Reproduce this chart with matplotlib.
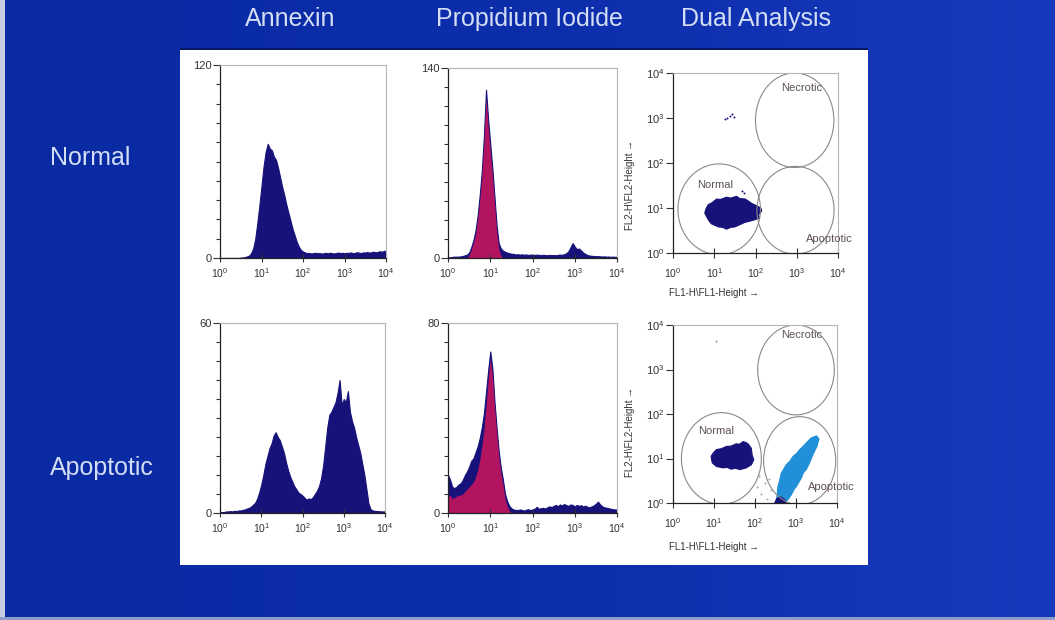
import numpy as np
import matplotlib
matplotlib.use('Agg')
import matplotlib.pyplot as plt
from matplotlib.patches import Ellipse, Polygon, Rectangle
from matplotlib.ticker import MultipleLocator
from matplotlib.colors import LinearSegmentedColormap

plt.rcParams['font.family'] = ['Liberation Sans', 'DejaVu Sans']
plt.rcParams['mathtext.fontset'] = 'custom'
plt.rcParams['mathtext.rm'] = 'Liberation Sans'
plt.rcParams['mathtext.it'] = 'Liberation Sans:italic'
plt.rcParams['mathtext.bf'] = 'Liberation Sans:bold'

W, H = 1055, 620

# ---- data -------------------------------------------------------------
col_titles = ['Annexin', 'Propidium Iodide', 'Dual Analysis']
row_titles = ['Normal', 'Apoptotic']
decade_labels = ['$10^{0}$', '$10^{1}$', '$10^{2}$', '$10^{3}$', '$10^{4}$']

# histogram channels: log10 intensity, 0.05 decade bins from 10^0 to 10^4
bins = np.arange(81) * 0.05

ann_normal = [0, 0, 0, 0, 0, 0, 0, 0, 0, 0, 0.2, 0.3,
              0.5, 1, 1.5, 3, 6, 12, 22, 33, 45, 57, 66, 71, 68, 67, 63, 61, 56, 50,
              44, 39, 33, 28, 23, 18, 14, 10, 7, 5, 4,
              3.5, 3, 3.2, 2.8, 3, 3.3, 2.9, 3.1, 2.7, 3,
              3.2, 2.9, 3.3, 3, 2.8, 3.1, 3.4, 3, 3.2, 2.9,
              3.3, 3.1, 3.5, 3, 3.2, 3.6, 3.3, 3.1, 3.5, 3.4,
              3.7, 3.3, 3.6, 3.9, 3.5, 3.8, 4.2, 3.9, 4.4, 4.6]

pi_normal = [0.5, 0.5, 0.8, 1, 1, 1, 1.2, 1.5, 2, 2.5,
             4, 8, 13, 20, 31, 46, 64, 90, 124, 102, 84, 66, 45, 24, 11, 7, 5.5, 4.5, 4, 3.5,
             3.2, 3, 2.6, 2.8, 2.5, 2.7, 2.4, 2.6, 2.3, 2.5,
             2.4, 2.2, 2.5, 2.3, 2.1, 2.4, 2.2, 2.0, 2.3, 2.1,
             2.2, 2.0, 2.3, 2.5, 2.4, 2.8,
             3.5, 5, 8, 11, 8.5, 6.5, 7, 5.5, 4, 3, 2.2,
             1.8, 1.6, 1.5, 1.3, 1.4, 1.2, 1.1, 1.2, 1.0, 1.1, 0.9, 1.0, 0.9, 0.8]

pi_normal_gate = [0] * 10 + [2, 6, 11, 17, 28, 42, 60, 85, 118, 97, 79, 61, 41, 20, 7, 2] + [0] * 55

ann_apo = [0.2, 0.3, 0.3, 0.5, 0.5, 0.6, 0.5, 0.7, 0.6, 0.8,
           0.8, 1.0, 1.1, 1.4, 1.6, 2.0, 2.6, 3.2, 4.5, 6.5,
           9, 12, 15.5, 18, 20.5, 22, 24.5, 25.5, 24, 23,
           21, 19, 16, 13.5, 11.5, 10, 8.5, 7.5, 6.5, 6,
           5.5, 4.8, 4.2, 4.6, 4.4, 5, 6, 7, 8.5, 11,
           15, 21, 27, 31, 32, 33.5, 35, 38, 42, 34,
           36, 35, 38.5, 32, 29, 27, 24, 21.5, 19, 15.5,
           12, 7.5, 3, 1.2, 0.8, 0.7, 0.6, 0.6, 0.5, 0.5,
           0.5]

pi_apo = [16, 14, 11, 10.5, 11, 12, 12.5, 14, 16, 17.5,
          19.5, 22, 23, 25.5, 28, 31.5, 36, 42, 51, 60,
          68, 61, 47, 36, 26, 19, 14, 8, 5, 3,
          2, 1.5, 1.3, 1.2, 1.5, 1.3, 1.0, 1.4, 1.6, 1.2,
          1.5, 1.8, 2.6, 1.8, 2.0, 2.2, 1.9, 2.4, 2.8, 2.5,
          3.0, 3.4, 2.9, 3.6, 3.2, 3.8, 3.3, 3.0, 3.6, 3.4,
          2.8, 3.4, 3.0, 3.3, 2.7, 3.1, 2.6, 2.4, 2.8, 3.2,
          3.9, 4.8, 3.6, 2.8, 2.4, 2.2, 2.0, 1.8, 1.6, 1.5,
          1.4]

pi_apo_gate = [7, 7.5, 6, 6.5, 7, 7.5, 7.5, 8, 9, 10,
               11, 12, 13, 15, 18, 22, 28, 35, 45, 56,
               65, 58, 45, 34, 24, 17, 12, 6, 3, 1] + [0] * 51

hist_ymax = [[120, 140], [60, 80]]

# dual plots: gates (cx, cy, width, height) in decades
gates_normal = [(1.12, 0.97, 2.0, 2.02), (2.97, 0.95, 1.87, 1.95), (2.95, 2.95, 1.9, 2.1)]
gates_apo = [(1.18, 1.0, 1.95, 2.06), (3.09, 0.95, 1.76, 1.98), (3.0, 2.99, 1.87, 2.02)]
gate_names = ['Normal', 'Apoptotic', 'Necrotic']
gate_text_normal = [(1.02, 1.52), (3.78, 0.31), (3.13, 3.67)]
gate_text_apo = [(1.06, 1.61), (3.86, 0.37), (3.13, 3.78)]

blob_normal_top = [(0.77, 0.89), (0.80, 0.98), (0.85, 1.07), (0.95, 1.12), (1.06, 1.20),
                   (1.15, 1.19), (1.30, 1.24), (1.40, 1.22), (1.54, 1.26), (1.62, 1.21),
                   (1.75, 1.20), (1.85, 1.14), (1.91, 1.10), (2.03, 1.05), (2.13, 1.00),
                   (2.15, 0.93), (2.07, 0.85), (2.10, 0.78), (1.99, 0.74), (1.83, 0.70),
                   (1.74, 0.68), (1.67, 0.65), (1.50, 0.58), (1.40, 0.57), (1.30, 0.53),
                   (1.20, 0.57), (1.10, 0.58), (0.93, 0.65), (0.87, 0.72), (0.83, 0.78)]
specks_top_x = [1.25, 1.32, 1.38, 1.44, 1.47, 1.67, 1.72]
specks_top_y = [2.98, 3.00, 3.04, 3.10, 3.03, 1.37, 1.33]

blob_normal_bot = [(0.93, 1.05), (0.98, 1.12), (1.06, 1.20), (1.18, 1.22), (1.30, 1.27),
                   (1.42, 1.28), (1.54, 1.33), (1.62, 1.32), (1.71, 1.38), (1.78, 1.36),
                   (1.83, 1.33), (1.91, 1.23), (1.93, 1.08), (1.97, 0.97), (1.91, 0.86),
                   (1.79, 0.79), (1.63, 0.75), (1.52, 0.78), (1.42, 0.76), (1.32, 0.80),
                   (1.22, 0.79), (1.06, 0.82), (0.96, 0.90), (0.94, 0.98)]
blob_apo = [(2.52, 0.0), (2.56, 0.37), (2.60, 0.50), (2.64, 0.67), (2.70, 0.76), (2.76, 0.86),
            (2.85, 0.94), (2.93, 1.05), (3.00, 1.10), (3.09, 1.20), (3.16, 1.26), (3.25, 1.35),
            (3.37, 1.46), (3.50, 1.51), (3.56, 1.44), (3.51, 1.27), (3.46, 1.18), (3.41, 1.08),
            (3.33, 0.90), (3.25, 0.75), (3.18, 0.68), (3.13, 0.56), (3.01, 0.37), (2.95, 0.30),
            (2.89, 0.19), (2.80, 0.07), (2.72, 0.0)]
blob_apo_dark = [(2.48, 0.0), (2.53, 0.10), (2.62, 0.14), (2.72, 0.08), (2.76, 0.0)]
specks_bot_x = [2.05, 2.15, 2.25, 2.30, 2.40, 2.10, 2.35]
specks_bot_y = [0.35, 0.20, 0.45, 0.10, 0.30, 0.60, 0.55]

# ---- style ------------------------------------------------------------
NAVY = '#16127a'
MAGENTA = '#b3145f'
LIGHTBLUE = '#2190d8'
GATE = '#8c8888'
TXT = '#d3def4'
TICK = '#333333'

fig = plt.figure(figsize=(W / 100, H / 100), dpi=100)

bg = fig.add_axes([0, 0, 1, 1], zorder=-10)
bg.set_xlim(0, W)
bg.set_ylim(H, 0)
bg.axis('off')
cmap = LinearSegmentedColormap.from_list('slide', ['#0a2aa2', '#0c2eab', '#1739bd'])
bg.imshow(np.linspace(0, 1, 256).reshape(1, -1), cmap=cmap, extent=(0, W, H, 0), aspect='auto')
bg.add_patch(Rectangle((0, 0), 5, H, fc='#c5cde2', ec='none'))
bg.add_patch(Rectangle((0, H - 3), W, 3, fc='#8e9cc8', ec='none'))
bg.add_patch(Rectangle((180, 48), 688, 4, fc='#061a6c', ec='none'))
bg.add_patch(Rectangle((180, 50), 688, 515, fc='white', ec='none'))

title_x = [290, 529, 756]
for name, x in zip(col_titles, title_x):
    fig.text(x / W, (H - 26) / H, name, color=TXT, fontsize=18, ha='center', va='baseline')
row_y = [165, 475]
for name, y in zip(row_titles, row_y):
    fig.text(50 / W, (H - y) / H, name, color=TXT, fontsize=18, ha='left', va='baseline')


def px_axes(left, top, right, bottom):
    return fig.add_axes([left / W, (H - bottom) / H, (right - left) / W, (bottom - top) / H])


def frame(ax):
    for s in ['top', 'right']:
        ax.spines[s].set_color('#b5b5b5')
        ax.spines[s].set_linewidth(0.8)
    for s in ['left', 'bottom']:
        ax.spines[s].set_color('#222222')
        ax.spines[s].set_linewidth(0.9)
    ax.set_xlim(0, 4)
    ax.set_xticks(range(5))
    ax.set_xticklabels(decade_labels)
    ax.tick_params(axis='x', direction='inout', length=6, width=0.8, colors=TICK,
                   labelsize=7.5, pad=3)
    ax.tick_params(axis='y', which='major', direction='out', length=5, width=0.8,
                   colors=TICK, labelsize=8, pad=1)


def draw_hist(ax, counts, gate, ymax):
    ax.fill_between(bins, counts, color=NAVY, lw=0.8, edgecolor=NAVY)
    if gate is not None:
        ax.fill_between(bins, gate, color=MAGENTA, lw=0)
    frame(ax)
    ax.set_ylim(0, ymax)
    ax.set_yticks([0, ymax])
    ax.set_yticklabels(['0', str(ymax)])
    ax.yaxis.set_minor_locator(MultipleLocator(ymax / 10))
    ax.tick_params(axis='y', which='minor', direction='out', length=3, width=0.8, colors=TICK)


def draw_dual(ax, blobs, gates, text_pos, specks, ylab_y, xlab_y):
    for pts, col in blobs:
        ax.add_patch(Polygon(pts, closed=True, fc=col, ec=col, lw=0.8))
    for cx, cy, w, h in gates:
        ax.add_patch(Ellipse((cx, cy), w, h, fill=False, ec=GATE, lw=0.8))
    for name, (x, y) in zip(gate_names, text_pos):
        ax.text(x, y, name, fontsize=8, color='#5e5050', ha='center', va='center')
    for sx, sy, col in specks:
        ax.scatter(sx, sy, s=2, color=col, lw=0)
    frame(ax)
    ax.set_ylim(0, 4)
    ax.set_yticks(range(5))
    ax.set_yticklabels(decade_labels)
    ax.tick_params(axis='x', length=7, pad=6)
    ax.set_ylabel('FL2-H\\FL2-Height \u2192', fontsize=7, color=TICK)
    ax.yaxis.set_label_coords(-0.23, ylab_y)
    ax.text(0.25, xlab_y, 'FL1-H\\FL1-Height \u2192', fontsize=7, color=TICK,
            ha='center', va='center', transform=ax.transAxes)


ax = px_axes(220, 65, 386, 258)
draw_hist(ax, ann_normal, None, hist_ymax[0][0])
ax = px_axes(448, 68, 617, 258)
draw_hist(ax, pi_normal, pi_normal_gate, hist_ymax[0][1])
ax = px_axes(220, 323, 385, 513)
draw_hist(ax, ann_apo, None, hist_ymax[1][0])
ax = px_axes(448, 323, 617, 513)
draw_hist(ax, pi_apo, pi_apo_gate, hist_ymax[1][1])

ax = px_axes(673, 73, 838, 253)
draw_dual(ax, [(blob_normal_top, NAVY)], gates_normal, gate_text_normal,
          [(specks_top_x, specks_top_y, NAVY)], 0.38, -0.22)
ax = px_axes(673, 325, 837, 503)
draw_dual(ax, [(blob_normal_bot, NAVY), (blob_apo, LIGHTBLUE), (blob_apo_dark, NAVY)],
          gates_apo, gate_text_apo,
          [([1.06], [3.63], '#8890b8'), (specks_bot_x, specks_bot_y, '#9aa6c8')], 0.40, -0.25)

fig.savefig('out.png', dpi=100)
